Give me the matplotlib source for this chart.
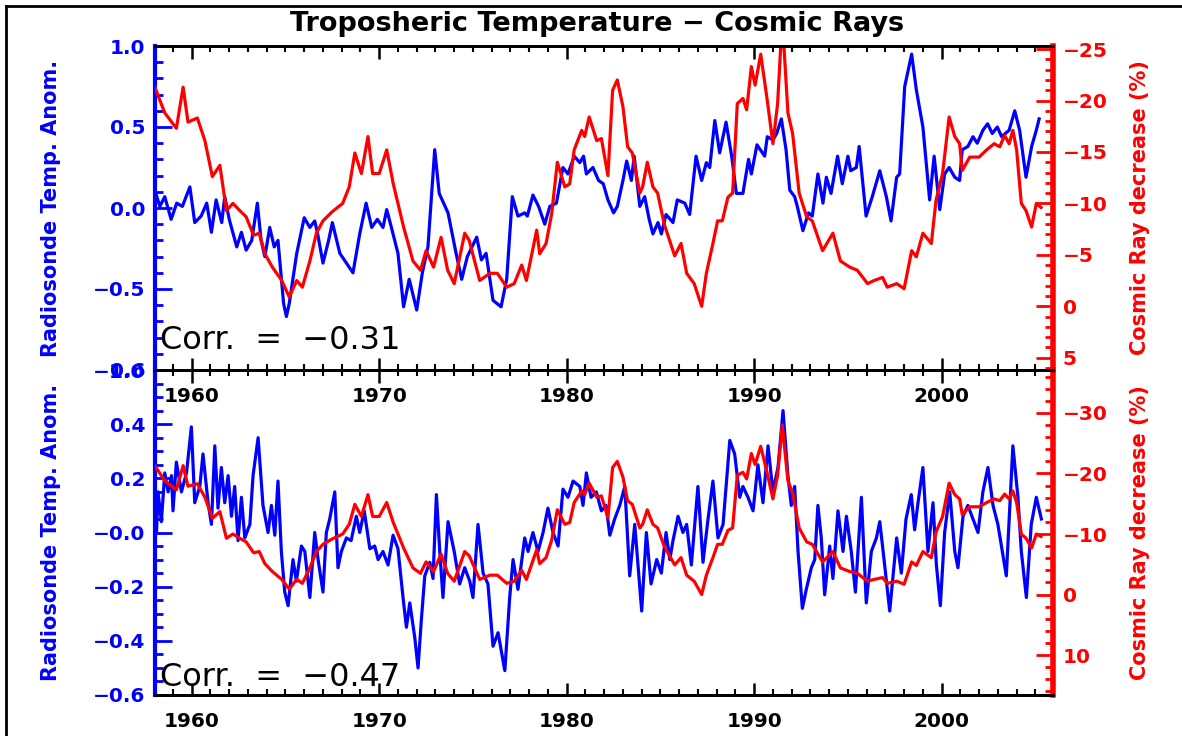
import numpy as np
import matplotlib
matplotlib.use("Agg")
import matplotlib.pyplot as plt
from matplotlib.lines import Line2D
from matplotlib.ticker import FixedLocator, MultipleLocator, FixedFormatter

# Cosmic ray decrease (%) - same series in both panels
cr_years = [1958.03, 1958.56, 1959.18, 1959.54, 1959.8, 1960.3, 1960.7, 1961.1, 1961.5, 1961.85,
            1962.2, 1962.56, 1962.9, 1963.3, 1963.6, 1963.9, 1964.3, 1964.8, 1965.2, 1965.6,
            1965.9, 1966.3, 1966.65, 1967.0, 1967.5, 1968.05, 1968.4, 1968.7, 1969.05, 1969.4,
            1969.65, 1970.0, 1970.4, 1970.75, 1971.3, 1971.8, 1972.2, 1972.5, 1972.9, 1973.3,
            1973.65, 1974.0, 1974.56, 1974.8, 1975.36, 1975.9, 1976.3, 1976.8, 1977.2, 1977.6,
            1977.85, 1978.4, 1978.56, 1978.9, 1979.2, 1979.5, 1979.9, 1980.16, 1980.4, 1980.8,
            1980.96, 1981.2, 1981.6, 1981.85, 1982.2, 1982.45, 1982.7, 1983.0, 1983.25, 1983.5,
            1983.9, 1984.05, 1984.3, 1984.6, 1984.85, 1985.2, 1985.76, 1986.1, 1986.4, 1986.8,
            1987.2, 1987.45, 1987.8, 1988.05, 1988.3, 1988.6, 1988.85, 1989.1, 1989.4, 1989.6,
            1989.85, 1990.05, 1990.35, 1990.7, 1991.0, 1991.25, 1991.5, 1991.8, 1992.05, 1992.4,
            1992.8, 1993.1, 1993.65, 1994.2, 1994.6, 1995.1, 1995.5, 1996.05, 1996.4, 1996.85,
            1997.1, 1997.6, 1998.0, 1998.4, 1998.65, 1999.0, 1999.45, 1999.7, 2000.05, 2000.4,
            2000.7, 2000.96, 2001.1, 2001.5, 2002.0, 2002.4, 2002.8, 2003.1, 2003.36, 2003.6,
            2003.8, 2004.0, 2004.25, 2004.5, 2004.8, 2005.05, 2005.3]
cr_vals = [-21.3, -18.8, -17.3, -21.3, -17.9, -18.3, -16.1, -12.6, -13.7, -9.3,
           -10.0, -9.3, -8.7, -6.9, -7.1, -5.1, -3.8, -2.5, -0.9, -2.5,
           -1.85, -4.4, -7.1, -8.3, -9.2, -10.0, -11.6, -14.9, -12.9, -16.5,
           -12.9, -12.9, -15.2, -11.9, -7.7, -4.4, -3.5, -5.4, -3.8, -6.7,
           -3.5, -2.2, -7.1, -6.4, -2.5, -3.2, -3.2, -1.85, -2.2, -4.0,
           -2.5, -7.4, -5.1, -6.1, -9.0, -14.0, -11.6, -11.9, -15.2, -17.1,
           -16.5, -18.4, -16.1, -16.3, -12.7, -21.0, -22.0, -19.4, -15.5, -14.9,
           -11.0, -11.6, -14.0, -11.6, -11.0, -8.0, -4.9, -6.1, -3.2, -2.2,
           0.0, -3.2, -6.1, -8.3, -8.3, -10.6, -11.0, -19.7, -20.2, -19.1,
           -23.3, -21.5, -24.5, -20.0, -15.8, -19.7, -28.0, -18.8, -16.8, -11.0,
           -8.7, -8.3, -5.4, -7.1, -4.4, -3.8, -3.5, -2.2, -2.5, -2.8,
           -1.85, -2.2, -1.7, -5.4, -4.8, -7.1, -6.1, -10.3, -12.9, -18.4,
           -16.5, -15.8, -13.2, -14.5, -14.5, -15.2, -15.8, -15.5, -16.6, -15.8,
           -17.1, -15.2, -10.0, -9.3, -7.7, -10.0, -9.6]

# Radiosonde temperature anomaly, top panel
t1_years = [1958.03, 1958.3, 1958.56, 1958.9, 1959.2, 1959.5, 1959.9, 1960.16, 1960.5, 1960.8,
            1961.05, 1961.3, 1961.6, 1961.76, 1962.0, 1962.4, 1962.65, 1962.9, 1963.2, 1963.5,
            1963.7, 1963.9, 1964.16, 1964.4, 1964.6, 1964.9, 1965.05, 1965.2, 1965.6, 1966.0,
            1966.3, 1966.56, 1966.7, 1967.0, 1967.3, 1967.5, 1967.9, 1968.25, 1968.6, 1968.96,
            1969.3, 1969.6, 1969.9, 1970.2, 1970.4, 1970.65, 1971.0, 1971.3, 1971.6, 1972.0,
            1972.3, 1972.6, 1972.96, 1973.2, 1973.67, 1974.1, 1974.4, 1974.7, 1975.2, 1975.45,
            1975.7, 1976.07, 1976.5, 1976.8, 1977.1, 1977.4, 1977.76, 1977.9, 1978.2, 1978.5,
            1978.83, 1979.1, 1979.45, 1979.8, 1980.07, 1980.4, 1980.7, 1980.9, 1981.05, 1981.4,
            1981.7, 1981.95, 1982.2, 1982.5, 1982.7, 1983.0, 1983.2, 1983.45, 1983.6, 1983.9,
            1984.16, 1984.4, 1984.6, 1984.87, 1985.05, 1985.3, 1985.67, 1985.9, 1986.3, 1986.56,
            1986.9, 1987.2, 1987.45, 1987.63, 1987.9, 1988.16, 1988.5, 1988.8, 1989.05, 1989.4,
            1989.7, 1989.85, 1990.15, 1990.56, 1990.7, 1991.0, 1991.2, 1991.45, 1991.7, 1991.9,
            1992.16, 1992.3, 1992.6, 1992.9, 1993.1, 1993.4, 1993.67, 1993.85, 1994.1, 1994.45,
            1994.7, 1995.0, 1995.15, 1995.45, 1995.6, 1995.97, 1996.3, 1996.7, 1997.05, 1997.3,
            1997.6, 1997.76, 1998.03, 1998.4, 1998.65, 1999.0, 1999.36, 1999.6, 1999.9, 2000.16,
            2000.4, 2000.7, 2000.96, 2001.1, 2001.4, 2001.67, 2001.9, 2002.2, 2002.45, 2002.7,
            2002.97, 2003.2, 2003.6, 2003.9, 2004.16, 2004.5, 2004.8, 2005.05, 2005.2]
t1_vals = [0.11, 0.01, 0.07, -0.07, 0.03, 0.01, 0.13, -0.09, -0.05, 0.03,
           -0.15, 0.05, -0.09, 0.07, -0.07, -0.24, -0.15, -0.26, -0.20, 0.03,
           -0.20, -0.30, -0.12, -0.24, -0.20, -0.59, -0.67, -0.59, -0.28, -0.06,
           -0.12, -0.08, -0.15, -0.34, -0.20, -0.09, -0.28, -0.34, -0.40, -0.16,
           0.03, -0.12, -0.07, -0.12, -0.01, -0.12, -0.28, -0.61, -0.44, -0.63,
           -0.40, -0.24, 0.36, 0.09, -0.03, -0.28, -0.44, -0.30, -0.18, -0.32,
           -0.28, -0.57, -0.61, -0.44, 0.07, -0.05, -0.03, -0.05, 0.08, 0.01,
           -0.10, 0.01, 0.03, 0.25, 0.21, 0.32, 0.28, 0.32, 0.21, 0.25,
           0.17, 0.15, 0.05, -0.03, 0.01, 0.17, 0.29, 0.17, 0.32, 0.01,
           0.07, -0.07, -0.16, -0.09, -0.16, -0.04, -0.09, 0.05, 0.03, -0.04,
           0.32, 0.17, 0.28, 0.25, 0.54, 0.34, 0.53, 0.32, 0.09, 0.09,
           0.30, 0.21, 0.39, 0.32, 0.44, 0.42, 0.46, 0.55, 0.36, 0.11,
           0.07, 0.01, -0.14, -0.03, -0.05, 0.21, 0.03, 0.19, 0.09, 0.32,
           0.15, 0.32, 0.23, 0.25, 0.38, -0.05, 0.07, 0.23, 0.07, -0.08,
           0.19, 0.21, 0.75, 0.95, 0.73, 0.50, 0.05, 0.32, -0.01, 0.21,
           0.25, 0.19, 0.17, 0.36, 0.38, 0.44, 0.40, 0.48, 0.52, 0.46,
           0.50, 0.44, 0.48, 0.60, 0.48, 0.19, 0.38, 0.48, 0.55]

# Radiosonde temperature anomaly, bottom panel
t2_years = [1958.12, 1958.2, 1958.38, 1958.56, 1958.74, 1958.92, 1959.0, 1959.18, 1959.45, 1959.72,
            1959.98, 1960.16, 1960.43, 1960.6, 1960.87, 1961.05, 1961.23, 1961.4, 1961.58, 1961.76,
            1961.94, 1962.12, 1962.29, 1962.47, 1962.65, 1962.83, 1963.1, 1963.27, 1963.54, 1963.8,
            1964.07, 1964.25, 1964.43, 1964.6, 1964.78, 1964.96, 1965.14, 1965.4, 1965.58, 1965.85,
            1966.03, 1966.3, 1966.56, 1966.74, 1967.0, 1967.18, 1967.36, 1967.63, 1967.8, 1967.98,
            1968.25, 1968.5, 1968.78, 1968.96, 1969.2, 1969.5, 1969.76, 1969.94, 1970.2, 1970.47,
            1970.74, 1971.0, 1971.27, 1971.45, 1971.63, 1971.9, 1972.07, 1972.25, 1972.43, 1972.7,
            1972.87, 1973.05, 1973.23, 1973.4, 1973.67, 1974.0, 1974.29, 1974.56, 1974.83, 1975.0,
            1975.27, 1975.54, 1975.8, 1976.07, 1976.34, 1976.7, 1976.96, 1977.14, 1977.4, 1977.76,
            1977.94, 1978.2, 1978.47, 1978.74, 1979.0, 1979.27, 1979.54, 1979.8, 1980.07, 1980.34,
            1980.7, 1980.87, 1981.05, 1981.3, 1981.58, 1981.85, 1982.1, 1982.3, 1982.56, 1982.83,
            1983.1, 1983.36, 1983.63, 1984.0, 1984.25, 1984.5, 1984.8, 1985.05, 1985.3, 1985.5,
            1985.67, 1985.94, 1986.2, 1986.4, 1986.65, 1987.0, 1987.27, 1987.54, 1987.8, 1988.07,
            1988.34, 1988.7, 1988.96, 1989.23, 1989.4, 1989.67, 1989.94, 1990.2, 1990.47, 1990.74,
            1991.0, 1991.27, 1991.54, 1991.8, 1991.98, 1992.16, 1992.34, 1992.57, 1992.78, 1993.05,
            1993.23, 1993.4, 1993.58, 1993.76, 1994.03, 1994.2, 1994.47, 1994.74, 1994.92, 1995.18,
            1995.4, 1995.72, 1995.98, 1996.25, 1996.52, 1996.7, 1996.96, 1997.23, 1997.6, 1997.85,
            1998.1, 1998.38, 1998.56, 1998.74, 1999.0, 1999.27, 1999.54, 1999.72, 1999.93, 2000.16,
            2000.43, 2000.7, 2000.87, 2001.14, 2001.4, 2001.67, 2001.94, 2002.2, 2002.47, 2002.74,
            2003.0, 2003.45, 2003.8, 2004.07, 2004.25, 2004.52, 2004.78, 2005.05, 2005.32]
t2_vals = [0.00, 0.15, 0.04, 0.22, 0.15, 0.21, 0.08, 0.26, 0.15, 0.22,
           0.39, 0.11, 0.17, 0.29, 0.11, 0.03, 0.32, 0.09, 0.24, 0.11,
           0.21, 0.06, 0.17, -0.03, 0.13, -0.02, 0.03, 0.21, 0.35, 0.10,
           0.00, 0.10, -0.01, 0.19, -0.07, -0.22, -0.27, -0.10, -0.18, -0.05,
           -0.07, -0.24, 0.00, -0.10, -0.22, 0.00, 0.05, 0.15, -0.13, -0.07,
           -0.02, -0.03, 0.06, 0.00, 0.08, -0.06, -0.05, -0.10, -0.07, -0.12,
           -0.01, -0.06, -0.24, -0.35, -0.26, -0.39, -0.50, -0.32, -0.16, -0.11,
           -0.17, 0.14, -0.07, -0.24, 0.04, -0.07, -0.19, -0.13, -0.18, -0.24,
           0.03, -0.15, -0.19, -0.42, -0.37, -0.51, -0.24, -0.10, -0.21, -0.02,
           -0.07, 0.00, -0.07, 0.00, 0.09, 0.00, -0.05, 0.16, 0.13, 0.19,
           0.17, 0.10, 0.22, 0.13, 0.15, 0.08, 0.10, -0.01, 0.05, 0.10,
           0.17, -0.16, 0.03, -0.29, 0.00, -0.19, -0.10, -0.15, 0.00, -0.10,
           -0.03, 0.06, 0.00, 0.03, -0.12, 0.17, -0.11, 0.05, 0.19, -0.02,
           0.03, 0.34, 0.29, 0.13, 0.17, 0.13, 0.08, 0.25, 0.11, 0.32,
           0.15, 0.24, 0.45, 0.21, 0.10, 0.17, -0.07, -0.28, -0.21, -0.13,
           -0.10, 0.10, -0.02, -0.23, -0.05, -0.17, 0.08, -0.07, 0.06, -0.07,
           -0.22, 0.13, -0.26, -0.07, -0.02, 0.04, -0.12, -0.29, -0.02, -0.15,
           0.05, 0.14, 0.01, 0.11, 0.24, -0.07, 0.11, -0.12, -0.27, 0.00,
           0.15, -0.07, -0.13, 0.06, 0.10, 0.05, 0.00, 0.15, 0.24, 0.10,
           0.03, -0.16, 0.32, 0.13, -0.07, -0.24, 0.03, 0.13, 0.05]

year_ticks = [1960, 1970, 1980, 1990, 2000]
top_temp_ticks = [-1.0, -0.5, 0.0, 0.5, 1.0]
top_temp_labels = ["\u22121.0", "\u22120.5", "0.0", "0.5", "1.0"]
bot_temp_ticks = [-0.6, -0.4, -0.2, 0.0, 0.2, 0.4, 0.6]
bot_temp_labels = ["\u22120.6", "\u22120.4", "\u22120.2", "\u22120.0", "0.2", "0.4", "0.6"]
top_cr_ticks = [-25, -20, -15, -10, -5, 0, 5]
top_cr_labels = ["\u221225", "\u221220", "\u221215", "\u221210", "\u22125", "0", "5"]
bot_cr_ticks = [-30, -20, -10, 0, 10]
bot_cr_labels = ["\u221230", "\u221220", "\u221210", "0", "10"]
corr_top = "Corr.  =  \u22120.31"
corr_bot = "Corr.  =  \u22120.47"

BLUE = (0, 0, 1)
RED = (1, 0, 0)
W, H = 1182, 736

plt.rcParams['font.family'] = ['DejaVu Sans']


def px_axes(fig, left, top, right, bottom):
    return fig.add_axes([left / W, 1 - bottom / H, (right - left) / W, (bottom - top) / H])


def style_panel(ax, ax2, yticks, ylabels, yminor, ylim, rticks, rlabels, rminor, rlim, corr):
    ax.set_facecolor("none")
    ax2.set_facecolor("none")
    ax.set_xlim(1958.04, 2005.94)
    ax.set_ylim(*ylim)
    ax2.set_ylim(*rlim)

    ax.xaxis.set_major_locator(FixedLocator(year_ticks))
    ax.xaxis.set_minor_locator(MultipleLocator(1))
    ax.tick_params(axis="x", which="both", direction="in", top=True, bottom=True,
                   colors="black", labelsize=14.5, pad=12)
    ax.tick_params(axis="x", which="major", length=9, width=1.8)
    ax.tick_params(axis="x", which="minor", length=4, width=1.5)
    for lab in ax.get_xticklabels():
        lab.set_fontweight("bold")

    ax.yaxis.set_major_locator(FixedLocator(yticks))
    ax.yaxis.set_major_formatter(FixedFormatter(ylabels))
    ax.yaxis.set_minor_locator(MultipleLocator(yminor))
    ax.tick_params(axis="y", which="both", direction="in", left=True, right=False,
                   colors=BLUE, labelsize=14.5, pad=7)
    ax.tick_params(axis="y", which="major", length=12, width=2)
    ax.tick_params(axis="y", which="minor", length=6, width=2)
    ax.set_ylabel("Radiosonde Temp. Anom.", color=BLUE, fontsize=15, fontweight="bold")
    ax.yaxis.set_label_coords(-0.105, 0.5)

    ax2.yaxis.set_major_locator(FixedLocator(rticks))
    ax2.yaxis.set_major_formatter(FixedFormatter(rlabels))
    ax2.yaxis.set_minor_locator(MultipleLocator(rminor))
    ax2.tick_params(axis="y", which="both", direction="in", colors=RED, labelsize=14.5, pad=7)
    ax2.tick_params(axis="y", which="major", length=12, width=2)
    ax2.tick_params(axis="y", which="minor", length=6, width=2)
    ax2.set_ylabel("Cosmic Ray decrease (%)", color=RED, fontsize=15, fontweight="bold",
                   rotation=90)
    ax2.yaxis.set_label_coords(1.086, 0.5)

    for a in (ax, ax2):
        a.spines["top"].set_color("black")
        a.spines["bottom"].set_color("black")
        a.spines["top"].set_linewidth(2)
        a.spines["bottom"].set_linewidth(2)
        for lab in a.get_yticklabels():
            lab.set_fontweight("bold")
    ax.spines["left"].set_color(BLUE)
    ax.spines["left"].set_linewidth(3)
    ax2.spines["left"].set_visible(False)
    ax.spines["right"].set_visible(False)
    ax2.spines["right"].set_color(RED)
    ax2.spines["right"].set_linewidth(4)

    ax.text(0.006, corr[1], corr[0], transform=ax.transAxes, fontsize=23,
            color="black", ha="left", va="center", zorder=5)


fig = plt.figure(figsize=(W / 100, H / 100), dpi=100)
fig.patch.set_facecolor("white")

# top panel
ax1 = px_axes(fig, 155, 46, 1053, 370)
ax1r = ax1.twinx()
ax1.plot(t1_years, t1_vals, color=BLUE, lw=2.3)
ax1r.plot(cr_years, cr_vals, color=RED, lw=2.3)
style_panel(ax1, ax1r, top_temp_ticks, top_temp_labels, 0.1, (-1.0, 1.0),
            top_cr_ticks, top_cr_labels, 1, (6.2, -25.3), (corr_top, 0.09))

# bottom panel
ax2 = px_axes(fig, 155, 370, 1053, 695)
ax2r = ax2.twinx()
ax2.plot(t2_years, t2_vals, color=BLUE, lw=2.3)
ax2r.plot(cr_years, cr_vals, color=RED, lw=2.3)
style_panel(ax2, ax2r, bot_temp_ticks, bot_temp_labels, 0.05, (-0.6, 0.6),
            bot_cr_ticks, bot_cr_labels, 2, (16.6, -37.1), (corr_bot, 0.055))

fig.text(597 / W, 1 - 24 / H, "Troposheric Temperature \u2212 Cosmic Rays",
         ha="center", va="center", fontsize=19.5, fontweight="bold", color="black")

# outer frame (left and top edges visible)
fig.add_artist(Line2D([6 / W, 6 / W], [0, 1 - 6 / H], color="black", lw=2,
                      transform=fig.transFigure))
fig.add_artist(Line2D([6 / W, 1], [1 - 6 / H, 1 - 6 / H], color="black", lw=2,
                      transform=fig.transFigure))

fig.savefig("out.png", dpi=100)
